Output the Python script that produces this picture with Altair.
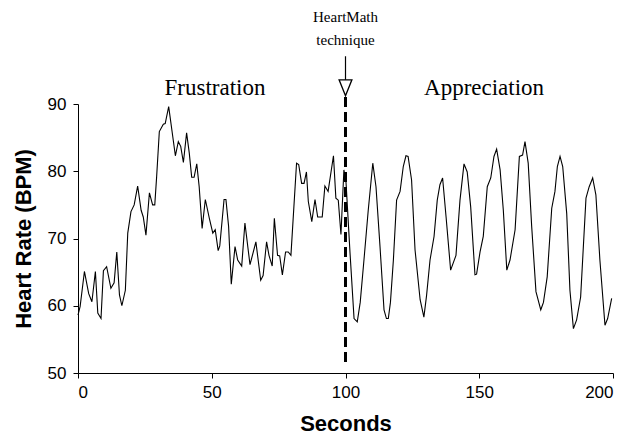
import altair as alt
import pandas as pd

seconds = [0, 0.8, 2.4, 4.0, 5.2, 6.5, 7.4, 8.6, 9.5, 10.7, 12.3, 13.5, 14.5, 15.5, 16.4, 17.7,
           18.6, 19.8, 21.0, 22.3, 23.6, 24.4, 25.4, 26.7, 27.9, 28.7, 29.4, 30.4, 31.9, 32.6,
           33.9, 36.4, 37.5, 38.4, 39.4, 40.6, 41.6, 42.5, 43.4, 44.4, 45.3, 46.4, 47.6, 49.1,
           50.4, 51.3, 52.4, 53.0, 54.6, 55.3, 56.3, 57.3, 58.7, 59.7, 61.2, 62.4, 64.3, 66.5,
           68.3, 69.2, 70.5, 71.4, 72.6, 73.4, 74.6, 75.4, 76.4, 77.6, 78.6, 79.6, 81.7, 82.5,
           83.6, 84.5, 85.4, 86.1, 87.4, 88.6, 89.6, 91.3, 92.3, 93.5, 95.5, 96.4, 97.3, 98.3,
           99.4, 100.2,
           101.7, 103.2, 104.4, 105.5, 106.9, 108.5, 110.2, 111.4, 112.9, 114.4, 115.3, 116.0,
           116.8, 117.9, 119.1, 120.4, 121.6, 122.6, 123.4, 124.7, 126.0, 127.9, 129.3, 130.3,
           131.6, 133.1, 134.3, 135.3, 136.3, 137.6, 139.3, 141.3, 142.8, 144.3, 145.5, 146.8,
           148.4, 149.0, 150.3, 151.5, 153.0, 154.3, 155.5, 156.5, 157.8, 159.0, 160.3, 161.5,
           163.4, 165.0, 166.2, 167.1, 168.3, 169.6, 171.2, 173.0, 174.0, 175.4, 177.1, 178.3,
           179.2, 180.2, 181.2, 182.7, 183.9, 185.2, 186.4, 187.9, 189.9, 191.1, 192.4, 193.6,
           195.1, 197.0, 198.0, 199.5]
bpm = [58.6, 59.9, 65.1, 61.8, 60.6, 65.1, 58.9, 58.1, 65.2, 65.8, 62.6, 63.4, 68.0, 61.6, 60.0, 62.3,
       70.8, 74.0, 75.0, 77.8, 74.2, 73.2, 70.5, 76.8, 75.0, 75.0, 79.2, 85.9, 87.0, 87.1,
       89.6, 82.3, 84.4, 83.7, 81.3, 85.7, 82.7, 79.1, 79.1, 81.1, 77.7, 71.5, 75.8, 73.0,
       70.8, 71.3, 68.2, 68.9, 75.8, 75.8, 71.8, 63.2, 68.8, 66.8, 65.9, 72.3, 66.1, 69.5,
       63.8, 64.5, 69.5, 67.5, 65.9, 73.0, 67.5, 67.4, 64.6, 68.0, 68.0, 67.5, 81.2, 81.0,
       78.2, 78.2, 79.9, 75.5, 72.5, 75.8, 73.2, 73.2, 77.8, 77.0, 82.3, 76.0, 75.7, 70.6,
       80.2, 78.3,
       67.8, 58.1, 57.6, 60.5, 66.8, 74.2, 81.2, 77.7, 68.8, 59.4, 58.1, 58.1,
       60.5, 66.8, 75.7, 77.0, 80.7, 82.3, 82.2, 78.7, 68.3, 60.9, 58.3, 61.5,
       66.8, 70.3, 75.7, 78.0, 79.0, 73.2, 65.3, 67.5, 75.7, 81.1, 79.9, 74.7,
       64.6, 64.7, 68.0, 70.3, 77.7, 79.0, 82.2, 83.3, 80.2, 74.2, 65.3, 66.8,
       71.3, 82.2, 82.4, 84.4, 81.2, 71.8, 62.1, 59.4, 60.5, 64.3, 74.5, 77.0,
       80.7, 82.2, 80.7, 73.7, 62.3, 56.6, 57.9, 61.3, 76.0, 77.7, 79.0, 76.5,
       66.8, 57.1, 58.1, 61.1]

phase_labels = ["Frustration", "Appreciation"]
phase_x = [51.2, 151.8]
phase_y = [92.4, 92.4]

note_lines = ["HeartMath", "technique"]
note_y = [102.9, 99.5]
event_second = 100

df = pd.DataFrame({"Seconds": seconds, "BPM": bpm})
df_phase = pd.DataFrame({"label": phase_labels, "x": phase_x, "y": phase_y})
df_note = pd.DataFrame({"label": note_lines, "x": [event_second] * 2, "y": note_y})
df_event = pd.DataFrame({"x": [event_second], "top": [91.04], "bottom": [51.64],
                         "a_top": [97.1], "a_bot": [93.6], "tri": [92.4]})

xs = alt.Scale(domain=[0, 200], nice=False, zero=False)
ys = alt.Scale(domain=[50, 90], nice=False, zero=False)

line = alt.Chart(df).mark_line(color="black", strokeWidth=1.1, clip=False).encode(
    x=alt.X("Seconds:Q", scale=xs,
            axis=alt.Axis(values=[0, 50, 100, 150, 200], title="Seconds",
                          labelPadding=6, titlePadding=13)),
    y=alt.Y("BPM:Q", scale=ys,
            axis=alt.Axis(values=[50, 60, 70, 80, 90], title="Heart Rate (BPM)",
                          labelPadding=7, titlePadding=12)),
)

dash = alt.Chart(df_event).mark_rule(color="black", strokeWidth=3, strokeDash=[10, 5], clip=False).encode(
    x=alt.X("x:Q", scale=xs), y=alt.Y("top:Q", scale=ys), y2="bottom:Q")

arrow = alt.Chart(df_event).mark_rule(color="black", strokeWidth=1.2, clip=False).encode(
    x=alt.X("x:Q", scale=xs), y=alt.Y("a_top:Q", scale=ys), y2="a_bot:Q")

tri = alt.Chart(df_event).mark_point(
    shape="M -0.8 -1 L 0.8 -1 L 0 1 Z", filled=False, size=256, color="black",
    strokeWidth=1.3, opacity=1, clip=False).encode(
    x=alt.X("x:Q", scale=xs), y=alt.Y("tri:Q", scale=ys))

phase_text = alt.Chart(df_phase).mark_text(
    font="Liberation Serif", fontSize=23, color="black", baseline="middle", align="center").encode(
    x=alt.X("x:Q", scale=xs), y=alt.Y("y:Q", scale=ys), text="label:N")

note_text = alt.Chart(df_note).mark_text(
    font="Liberation Serif", fontSize=15, color="black", baseline="middle", align="center").encode(
    x=alt.X("x:Q", scale=xs), y=alt.Y("y:Q", scale=ys), text="label:N")

chart = alt.layer(line, dash, arrow, tri, phase_text, note_text).properties(
    width=535, height=269,
    autosize=alt.AutoSizeParams(type="none"),
    padding={"left": 70, "top": 96, "right": 9, "bottom": 64},
).configure_view(stroke=None).configure_axis(
    grid=False, domainColor="black", domainWidth=1, tickColor="black", tickSize=5,
    labelFont="Liberation Sans", labelFontSize=17, labelColor="black",
    titleFont="Liberation Sans", titleFontSize=22, titleFontWeight="bold", titleColor="black",
)

chart.save("out.html", embed_options={"renderer": "svg", "actions": False})
